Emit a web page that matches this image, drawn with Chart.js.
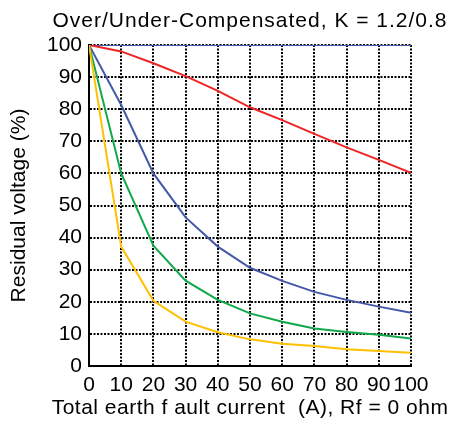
<!DOCTYPE html>
<html>
<head>
<meta charset="utf-8">
<script src="https://cdn.jsdelivr.net/npm/chart.js@4"></script>
<style>
  html, body { margin: 0; padding: 0; background: #fff; }
  #wrap { width: 452px; height: 432px; }
</style>
</head>
<body>
<div id="wrap"><canvas id="myChart" width="452" height="432"></canvas></div>
<script>
// fault current (A)
const current = [0, 10, 20, 30, 40, 50, 60, 70, 80, 90, 100];

// residual voltage (%) for each curve
const flatBlue = [100, 100, 100, 100, 100, 100, 100, 100, 100, 100, 100];
const redCurve = [100, 98, 94.3, 90.3, 85.7, 80.6, 76.6, 72.3, 68.1, 64.2, 60.2];
const blueCurve = [100, 81.3, 60, 46.3, 37.2, 30.6, 26.5, 23.1, 20.6, 18.5, 16.6];
const greenCurve = [100, 60, 37.5, 26.6, 20.6, 16.4, 13.8, 11.7, 10.6, 9.7, 8.6];
const yellowCurve = [100, 37.2, 20.3, 13.8, 10.5, 8.3, 6.9, 6.2, 5.2, 4.7, 4.1];

const titleText = 'Over/Under-Compensated, K = 1.2/0.8';
const xTitleText = 'Total earth f ault current  (A), Rf = 0 ohm';
const yTitleText = 'Residual voltage (%)';

const font = 'Liberation Sans, Arial, sans-serif';

function points(vals) {
    return vals.map((v, i) => ({ x: current[i], y: v }));
}

function line(vals, color) {
    return {
        data: points(vals),
        borderColor: color,
        borderWidth: 2,
        pointRadius: 0,
        tension: 0,
        fill: false
    };
}

// titles drawn by hand so they are not squeezed to the plot width
const titles = {
    id: 'titles',
    afterDraw(c) {
        const g = c.ctx;
        const a = c.chartArea;
        const cx = (a.left + a.right) / 2;
        g.save();
        g.fillStyle = '#000';
        g.font = '21px ' + font;
        g.textAlign = 'center';
        g.textBaseline = 'middle';
        g.letterSpacing = '1px';
        g.fillText(titleText, cx, 21);
        g.letterSpacing = '0.5px';
        g.fillText(xTitleText, cx, 408);
        g.restore();
    }
};

const gridOpts = {
    color: '#000',
    lineWidth: 2,
    drawTicks: false
};

const borderOpts = {
    display: true,
    color: '#000',
    width: 2,
    dash: [2, 1.5]
};

var ctx = document.getElementById('myChart').getContext('2d');
var chart = new Chart(ctx, { //eslint-disable-line
    type: 'line',
    data: {
        datasets: [
            line(yellowCurve, '#ffc000'),
            line(greenCurve, '#10a84a'),
            line(blueCurve, '#4458a8'),
            line(redCurve, '#ee2424'),
            line(flatBlue, '#4458a8')
        ]
    },
    plugins: [titles],
    options: {
        responsive: false,
        animation: false,
        layout: { padding: { top: 45, right: 41, bottom: 0, left: 0 } },
        plugins: {
            legend: { display: false },
            tooltip: { enabled: false }
        },
        scales: {
            x: {
                type: 'linear',
                min: 0,
                max: 100,
                afterFit: (s) => { s.height = 66; },
                ticks: {
                    stepSize: 10,
                    autoSkip: false,
                    maxRotation: 0,
                    padding: 7,
                    color: '#000',
                    font: { family: font, size: 21 }
                },
                grid: gridOpts,
                border: borderOpts
            },
            y: {
                min: 0,
                max: 100,
                afterFit: (s) => { s.width = 89; },
                ticks: {
                    stepSize: 10,
                    padding: 7,
                    color: '#000',
                    font: { family: font, size: 21 }
                },
                grid: gridOpts,
                border: borderOpts,
                title: {
                    display: true,
                    text: yTitleText,
                    color: '#000',
                    font: { family: font, size: 21 },
                    padding: { top: 7, bottom: 0 }
                }
            }
        }
    }
});
</script>
</body>
</html>
